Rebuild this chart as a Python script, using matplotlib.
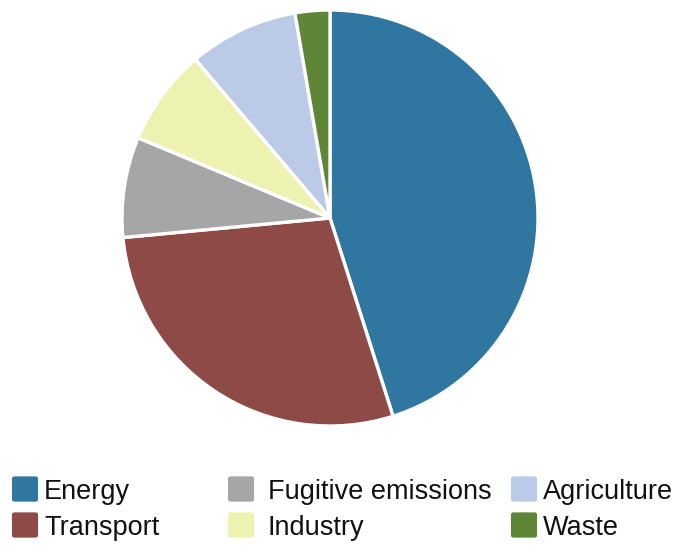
import matplotlib
matplotlib.use("Agg")
import matplotlib.pyplot as plt
from matplotlib.patches import FancyBboxPatch

# emission shares by sector (%)
sectors = ["Energy", "Transport", "Fugitive emissions", "Industry", "Agriculture", "Waste"]
shares = [45.1, 28.4, 7.8, 7.5, 8.5, 2.7]
colors = ["#2F76A1", "#8E4A47", "#A6A6A6", "#EEF2B1", "#BBCAE6", "#5F8537"]

W, H = 683, 547
fig = plt.figure(figsize=(W / 100, H / 100), dpi=100)

# pie: centre (330, 218) px, radius 208 px
cx, cy, r = 330, 218, 208
ax = fig.add_axes([(cx - r) / W, (H - cy - r) / H, 2 * r / W, 2 * r / H])
ax.pie(shares, colors=colors, startangle=90, counterclock=False,
       wedgeprops=dict(edgecolor="white", linewidth=2.4))
ax.set_xlim(-1, 1)
ax.set_ylim(-1, 1)
ax.set_aspect("equal")
ax.axis("off")

# legend, laid out column by column in pixel positions
swatch_x = [12, 12, 228, 228, 511, 511]
text_x = [44, 44, 268, 268, 543, 543]
row_y = [489, 525, 489, 525, 489, 525]
sw = 26
for i, name in enumerate(sectors):
    x0 = swatch_x[i]
    yc = row_y[i]
    box = FancyBboxPatch(((x0 + 2) / W, (H - yc - sw / 2 + 2) / H),
                         (sw - 4) / W, (sw - 4) / H,
                         boxstyle="round,pad=0.003,rounding_size=0.004",
                         transform=fig.transFigure, facecolor=colors[i],
                         edgecolor="none")
    fig.patches.append(box)
    fig.text(text_x[i] / W, (H - yc) / H, name, fontsize=19.5,
             family="Liberation Sans", color="#111111",
             ha="left", va="center_baseline")

fig.savefig("out.png", dpi=100)
